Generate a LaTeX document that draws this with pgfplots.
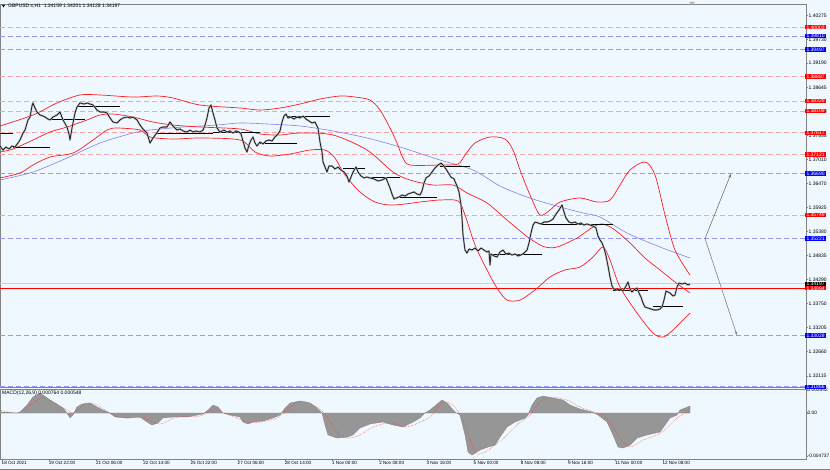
\documentclass[border=0pt]{standalone}
\usepackage{fontspec}
\setmainfont{Liberation Sans}
\usepackage{pgfplots}
\pgfplotsset{compat=1.18}
\usetikzlibrary{arrows.meta}

\definecolor{panelbg}{RGB}{240,248,255}
\definecolor{reddash}{RGB}{245,165,165}
\definecolor{bluedash}{RGB}{150,150,245}
\definecolor{bbred}{RGB}{250,30,30}
\definecolor{mablue}{RGB}{130,130,235}
\definecolor{framegray}{RGB}{130,130,130}
\definecolor{histgray}{RGB}{150,150,150}
\definecolor{candlegray}{RGB}{170,170,170}

\pgfplotsset{
  reddl/.style={reddash, dash pattern=on 5pt off 3pt, line width=0.6pt, forget plot},
  bluedl/.style={bluedash, dash pattern=on 5pt off 3pt, line width=0.6pt, forget plot},
  pivot/.style={black, line width=0.6pt, forget plot},
  pricepanel/.style={
    at={(0pt,-4pt)}, anchor=north west,
    width=806pt, height=383pt, scale only axis,
    xmin=0, xmax=806, ymin=1.31860, ymax=1.40531,
  },
}
\tikzset{
  lbl/.style={anchor=west, inner xsep=1.3pt, inner ysep=0.4pt, text=white, font=\fontsize{5pt}{5pt}\selectfont},
}

\begin{document}
\begin{tikzpicture}[font=\fontsize{5pt}{6pt}\selectfont]
\fill[panelbg] (0,0) rectangle (830pt,-470pt);

% price panel
\begin{axis}[
  pricepanel,
  axis line style={framegray, line width=0.6pt},
  xtick=\empty,
  ytick={1.40275,1.39730,1.39190,1.38645,1.38100,1.37555,1.37010,1.36470,1.35925,1.35380,1.34835,1.34290,1.33750,1.33205,1.32660,1.32115},
  yticklabels={1.40275,1.39730,1.39190,1.38645,1.38100,1.37555,1.37010,1.36470,1.35925,1.35380,1.34835,1.34290,1.33750,1.33205,1.32660,1.32115},
  scaled y ticks=false,
  yticklabel pos=right, ytick pos=right, ytick align=outside,
  major tick length=2pt,
  tick style={framegray, line width=0.4pt},
  yticklabel style={anchor=west, inner sep=0.5pt},
  /pgf/number format/assume math mode=true,
  clip=false,
]
% horizontal levels
\addplot[reddl] coordinates {(0,1.40003) (806,1.40003)};
\addplot[bluedl] coordinates {(0,1.39810) (806,1.39810)};
\addplot[bluedl] coordinates {(0,1.39497) (806,1.39497)};
\addplot[reddl] coordinates {(0,1.38887) (806,1.38887)};
\addplot[reddl] coordinates {(0,1.38329) (806,1.38329)};
\addplot[reddl] coordinates {(0,1.38109) (806,1.38109)};
\addplot[reddl] coordinates {(0,1.37617) (806,1.37617)};
\addplot[reddl] coordinates {(0,1.37121) (806,1.37121)};
\addplot[bluedl] coordinates {(0,1.36690) (806,1.36690)};
\addplot[reddl] coordinates {(0,1.35749) (806,1.35749)};
\addplot[bluedl] coordinates {(0,1.35221) (806,1.35221)};
\addplot[bluedl] coordinates {(0,1.33028) (806,1.33028)};
\addplot[bluedl] coordinates {(0,1.31866) (806,1.31866)};
\addplot[gray!35, line width=0.6pt, forget plot] coordinates {(0,1.34197) (806,1.34197)};
\addplot[red, line width=0.8pt, forget plot] coordinates {(0,1.34094) (806,1.34094)};

% moving average
\addplot[mablue, line width=0.6pt, smooth] coordinates {
(0,1.36546) (33,1.36727) (67,1.37044) (100,1.37384) (133,1.37610) (150,1.37678)
(183,1.37746) (217,1.37791) (240,1.37837) (267,1.37814) (300,1.37769) (333,1.37656)
(367,1.37497) (400,1.37293) (440,1.36999) (473,1.36773) (500,1.36410) (527,1.36161)
(553,1.35980) (583,1.35799) (600,1.35709) (627,1.35346) (660,1.35029) (690,1.34780)};

% Bollinger bands
\addplot[bbred, line width=0.7pt, smooth] coordinates {
(0,1.37769) (33,1.38018) (57,1.38290) (80,1.38471) (100,1.38471) (133,1.38425)
(157,1.38448) (173,1.38403) (200,1.38244) (240,1.38176) (260,1.38131) (280,1.38176)
(300,1.38267) (320,1.38380) (340,1.38448) (355,1.38425) (370,1.38357) (380,1.38131)
(390,1.37723) (397,1.37384) (403,1.37044)
(410,1.36886) (440,1.36886) (458,1.36908) (465,1.37112) (475,1.37384) (490,1.37520)
(505,1.37474) (513,1.37225) (520,1.36773) (530,1.36207) (540,1.35754) (550,1.35867)
(560,1.36048) (580,1.36139) (597,1.36048) (610,1.36093) (620,1.36433) (630,1.36773)
(645,1.36954) (655,1.36659) (665,1.35754) (675,1.34961) (690,1.34395)};
\addplot[bbred, line width=0.7pt, smooth] coordinates {
(0,1.37180) (13,1.37248) (33,1.37452) (50,1.37633) (67,1.37746) (87,1.37905)
(100,1.38018) (113,1.38040) (133,1.37972) (153,1.37859) (173,1.37791) (200,1.37746)
(240,1.37701) (260,1.37588) (280,1.37565) (300,1.37610) (333,1.37565)
(367,1.37225) (393,1.36727) (410,1.36546)
(433,1.36433) (453,1.36433) (467,1.36252) (487,1.36026) (507,1.35641) (525,1.35301)
(535,1.35143) (545,1.35029) (557,1.35029) (577,1.35233) (593,1.35482) (603,1.35550)
(615,1.35414) (630,1.35120) (645,1.34780) (660,1.34509) (675,1.34237) (690,1.33988)};
\addplot[bbred, line width=0.7pt, smooth] coordinates {
(0,1.36592) (20,1.36705) (33,1.36886) (50,1.37067) (73,1.37158) (93,1.37452)
(107,1.37678) (117,1.37723) (140,1.37678) (150,1.37520) (173,1.37474) (200,1.37497)
(240,1.37452) (255,1.37180) (270,1.37090) (290,1.37135) (310,1.37225) (325,1.37225)
(335,1.37044) (345,1.36659) (360,1.36275) (375,1.36048) (390,1.35980) (405,1.36003)
(420,1.36048) (440,1.36093) (458,1.36071) (465,1.35754) (475,1.35075) (487,1.34509)
(497,1.34101) (507,1.33829) (520,1.33829) (535,1.34056) (550,1.34350) (565,1.34509)
(580,1.34576) (593,1.34803) (603,1.35029) (610,1.34735) (620,1.34124) (637,1.33535)
(653,1.33082) (663,1.32992) (673,1.33150) (690,1.33535)};

% daily reference segments
\addplot[pivot] coordinates {(0,1.37610) (13,1.37610)};
\addplot[pivot] coordinates {(13,1.37293) (50,1.37293)};
\addplot[pivot] coordinates {(50,1.37927) (85,1.37927)};
\addplot[pivot] coordinates {(77,1.38222) (120,1.38222)};
\addplot[pivot] coordinates {(157,1.37610) (213,1.37610)};
\addplot[pivot] coordinates {(213,1.37633) (260,1.37633)};
\addplot[pivot] coordinates {(260,1.37384) (297,1.37384)};
\addplot[pivot] coordinates {(287,1.37995) (330,1.37995)};
\addplot[pivot] coordinates {(343,1.36818) (365,1.36818)};
\addplot[pivot] coordinates {(370,1.36614) (400,1.36614)};
\addplot[pivot] coordinates {(400,1.36161) (437,1.36161)};
\addplot[pivot] coordinates {(440,1.36863) (470,1.36863)};
\addplot[pivot] coordinates {(490,1.34871) (542,1.34871)};
\addplot[pivot] coordinates {(540,1.35550) (613,1.35550)};
\addplot[pivot] coordinates {(613,1.34056) (648,1.34056)};
\addplot[pivot] coordinates {(653,1.33694) (683,1.33694)};

% price (H1 closes), grey under-stroke for the bar ranges
\addplot[black, line width=0.55pt, line join=round,
  preaction={draw, candlegray, line width=1.8pt, line join=round}] coordinates {
(0,1.37316) (3,1.37225) (6,1.37293) (9,1.37248) (12,1.37316) (15,1.37293) (18,1.37384)
(20,1.37452) (23,1.37610) (25,1.37678) (28,1.37905) (30,1.37972) (32,1.38222) (33,1.38290)
(35,1.38176) (37,1.38086) (40,1.38018) (43,1.37995) (45,1.37972) (48,1.37927) (50,1.37905)
(53,1.37972) (57,1.38018) (60,1.38086) (63,1.37905) (67,1.37746) (69,1.37588) (70,1.37452)
(72,1.37723) (73,1.37837) (75,1.38063) (77,1.38199) (80,1.38290) (84,1.38267) (87,1.38290)
(90,1.38267) (93,1.38244) (97,1.38131) (100,1.38086) (104,1.38086) (107,1.38063) (110,1.37950)
(113,1.37859) (117,1.37837) (120,1.37905) (123,1.37950) (127,1.37972) (130,1.37950) (133,1.37972)
(137,1.37905) (140,1.37791) (143,1.37701) (147,1.37610) (150,1.37384) (153,1.37497) (156,1.37588)
(160,1.37723) (163,1.37746) (167,1.37746) (170,1.37859) (173,1.37769) (177,1.37678) (180,1.37701)
(183,1.37656) (187,1.37633) (190,1.37678) (193,1.37633) (196,1.37656) (200,1.37633) (203,1.37678)
(205,1.37791) (207,1.37950) (209,1.38176) (211,1.38244) (213,1.38063) (215,1.37905) (217,1.37723)
(220,1.37633) (224,1.37678) (227,1.37633) (230,1.37656) (233,1.37610) (236,1.37656) (239,1.37633)
(241,1.37588) (243,1.37429) (245,1.37271) (247,1.37180)
(249,1.37339) (251,1.37452) (253,1.37520) (255,1.37384) (257,1.37316) (260,1.37407) (263,1.37361)
(266,1.37429) (269,1.37452) (272,1.37429) (275,1.37520) (278,1.37588) (280,1.37656) (282,1.37859)
(284,1.37995) (286,1.38040) (288,1.37950) (291,1.37972) (294,1.37927) (297,1.37972) (300,1.37950)
(303,1.37995) (306,1.37927) (309,1.37882) (312,1.37837) (315,1.37859) (318,1.37723) (320,1.37407)
(322,1.37180) (323,1.36954) (325,1.36841) (327,1.36727) (329,1.36863) (332,1.36863) (335,1.36795)
(338,1.36841) (341,1.36773) (344,1.36727) (347,1.36637) (349,1.36501) (351,1.36614) (353,1.36727)
(356,1.36841) (358,1.36727) (361,1.36637) (364,1.36592) (367,1.36614) (370,1.36592) (374,1.36569)
(378,1.36524) (382,1.36546) (386,1.36592) (388,1.36478) (390,1.36365) (392,1.36229) (394,1.36116)
(396,1.36139) (399,1.36161) (402,1.36207) (405,1.36184) (408,1.36229) (411,1.36252) (414,1.36275)
(417,1.36229) (420,1.36207) (422,1.36297) (424,1.36478) (426,1.36592) (429,1.36637) (432,1.36727)
(435,1.36818) (438,1.36886) (441,1.36931) (443,1.36886) (446,1.36795) (449,1.36682) (451,1.36614)
(454,1.36569) (457,1.36410) (459,1.36275) (461,1.35980) (462,1.35686) (463,1.35301) (465,1.34961)
(467,1.34893) (469,1.34984) (472,1.34961) (475,1.35007) (478,1.34939) (481,1.35007) (484,1.34961)
(487,1.34916) (489,1.34939) (490,1.34622) (491,1.34871) (494,1.34826) (497,1.34803) (500,1.34916)
(503,1.34961) (506,1.34871) (509,1.34893) (512,1.34848) (515,1.34871) (518,1.34826) (521,1.34848)
(524,1.34893) (527,1.34961) (529,1.35120) (531,1.35346) (533,1.35527) (535,1.35595) (538,1.35573)
(541,1.35550) (544,1.35595) (547,1.35595) (550,1.35618) (553,1.35663) (556,1.35776) (559,1.35867)
(562,1.35980) (564,1.35822) (566,1.35686) (569,1.35595) (572,1.35573) (575,1.35595) (578,1.35550)
(581,1.35573) (584,1.35527) (587,1.35550) (590,1.35527) (593,1.35505) (596,1.35459) (598,1.35278)
(600,1.35188) (602,1.35120) (604,1.35007) (606,1.34826) (608,1.34599) (610,1.34350) (612,1.34146)
(614,1.34078) (617,1.34056) (620,1.34078) (623,1.34033) (626,1.34146) (628,1.34237) (630,1.34078)
(632,1.34010) (635,1.34078) (637,1.34101) (639,1.33988) (641,1.33897) (643,1.33761) (645,1.33671)
(648,1.33648) (651,1.33626) (654,1.33603) (657,1.33603) (660,1.33626) (662,1.33671) (664,1.33829)
(666,1.34033) (668,1.34010) (670,1.33988) (673,1.33920) (675,1.33943) (677,1.34124) (679,1.34214)
(682,1.34192) (685,1.34214) (688,1.34169) (690,1.34192)};

% projection arrows
\addplot[gray!90!black, line width=0.6pt, -{Stealth[length=4pt,width=2.5pt]}] coordinates {(705,1.35221) (731,1.36690)};
\addplot[gray, line width=0.6pt, -{Stealth[length=4pt,width=2.5pt]}] coordinates {(705,1.35221) (737,1.33028)};
\end{axis}

% MACD panel
\begin{axis}[
  at={(0pt,-389pt)}, anchor=north west,
  width=806pt, height=70pt, scale only axis,
  xmin=0, xmax=806, ymin=-0.005069, ymax=0.002645,
  axis line style={framegray, line width=0.6pt},
  ytick={-0.004737,0,0.002542},
  yticklabels={-0.004737,0.00,0.002542},
  scaled y ticks=false,
  yticklabel pos=right, ytick pos=right, ytick align=outside,
  xtick={2,49.2,96.4,143.6,190.8,238,285.2,332.4,379.6,426.8,474,521.2,568.4,615.6,662.8},
  xticklabels={18 Oct 2021,19 Oct 22:00,21 Oct 06:00,22 Oct 14:00,25 Oct 22:00,27 Oct 06:00,28 Oct 14:00,1 Nov 00:00,2 Nov 08:00,3 Nov 16:00,5 Nov 00:00,8 Nov 08:00,9 Nov 16:00,11 Nov 00:00,12 Nov 08:00},
  xtick pos=bottom, xtick align=outside,
  major tick length=2pt,
  tick style={framegray, line width=0.4pt},
  yticklabel style={anchor=west, inner sep=0pt, xshift=-0.5pt, font=\fontsize{4.8pt}{5pt}\selectfont},
  xticklabel style={anchor=north west, inner sep=0.5pt, xshift=-1pt, font=\fontsize{4.6pt}{5pt}\selectfont},
  /pgf/number format/assume math mode=true,
  clip=false,
]
\addplot[fill=histgray, draw=histgray!85!black, line width=0.3pt] coordinates {
(0,0.00011) (17,0) (20,0.00011) (27,0.00088) (33,0.00176) (40,0.00220) (43,0.00198)
(50,0.00143) (58,0.00088) (63,0.00055) (67,0) (70,-0.00055) (73,-0.00022) (77,0.00066)
(82,0.00099) (90,0.00110) (97,0.00066) (103,0.00033) (110,0) (115,-0.00044) (127,-0.00055)
(140,-0.00044) (147,-0.00099) (152,-0.00132) (158,-0.00110) (163,-0.00055) (173,-0.00044)
(187,-0.00044) (203,-0.00011) (208,0.00033) (213,0.00088) (218,0.00066) (223,0)
(230,-0.00022) (240,-0.00044) (243,-0.00099) (248,-0.00121) (253,-0.00099) (263,-0.00088)
(273,-0.00055) (280,-0.00022) (285,0.00055) (290,0.00110) (300,0.00132) (310,0.00110)
(317,0.00055) (322,0) (325,-0.00132) (328,-0.00242) (337,-0.00276) (347,-0.00265)
(353,-0.00242) (360,-0.00165) (370,-0.00121) (383,-0.00099) (393,-0.00132) (403,-0.00154)
(413,-0.00099) (420,-0.00055) (425,0) (430,0.00033) (442,0.00143) (447,0.00110)
(455,0.00011) (460,-0.00022) (465,-0.00242) (468,-0.00430) (472,-0.00463) (480,-0.00408)
(488,-0.00375) (495,-0.00353) (500,-0.00265) (507,-0.00154) (515,-0.00099) (525,-0.00055)
(528,-0.00022) (532,0.00088) (537,0.00165) (543,0.00187) (553,0.00165) (563,0.00143)
(570,0.00088) (580,0.00044) (592,0.00011) (598,-0.00022) (607,-0.00099) (613,-0.00242)
(618,-0.00375) (623,-0.00386) (630,-0.00353) (637,-0.00276) (647,-0.00242) (660,-0.00209)
(670,-0.00055) (677,-0.00022) (680,0.00033) (690,0.00076)} \closedcycle;
\addplot[red!75, densely dotted, line width=0.5pt, smooth] coordinates {
(0,0.00033) (17,0) (30,0.00088) (43,0.00176) (50,0.00143) (67,0.00033) (73,0)
(87,0.00110) (97,0.00088) (113,-0.00022) (127,-0.00055) (143,-0.00055) (160,-0.00121)
(177,-0.00044) (200,-0.00033) (213,0.00033) (227,-0.00011) (247,-0.00099) (260,-0.00099)
(277,-0.00055) (293,0.00088) (303,0.00132) (317,0.00066) (327,-0.00044) (337,-0.00209)
(347,-0.00276) (360,-0.00242) (373,-0.00154) (390,-0.00110) (407,-0.00154) (420,-0.00099)
(430,-0.00044) (443,0.00121) (455,0.00066) (465,-0.00132) (475,-0.00430) (483,-0.00441)
(495,-0.00353) (507,-0.00242) (518,-0.00121) (530,-0.00022) (540,0.00121) (550,0.00176)
(567,0.00143) (580,0.00066) (597,0) (607,-0.00055) (620,-0.00276) (630,-0.00375)
(643,-0.00298) (657,-0.00242) (667,-0.00165) (677,-0.00055) (687,0.00011) (690,0.00055)};
\end{axis}

% price labels on the scale, over the tick labels
\begin{axis}[pricepanel, hide axis, clip=false]
\node[lbl, fill=red]   at (axis cs:805,1.40003) {1.40003};
\node[lbl, fill=blue]  at (axis cs:805,1.39810) {1.39810};
\node[lbl, fill=blue]  at (axis cs:805,1.39497) {1.39497};
\node[lbl, fill=red]   at (axis cs:805,1.38887) {1.38887};
\node[lbl, fill=red]   at (axis cs:805,1.38329) {1.38329};
\node[lbl, fill=red]   at (axis cs:805,1.38109) {1.38109};
\node[lbl, fill=red]   at (axis cs:805,1.37617) {1.37617};
\node[lbl, fill=red]   at (axis cs:805,1.37121) {1.37121};
\node[lbl, fill=blue]  at (axis cs:805,1.36690) {1.36690};
\node[lbl, fill=red]   at (axis cs:805,1.35749) {1.35749};
\node[lbl, fill=blue]  at (axis cs:805,1.35221) {1.35221};
\node[lbl, fill=black] at (axis cs:805,1.34197) {1.34197};
\node[lbl, fill=red]   at (axis cs:805,1.34094) {1.34094};
\node[lbl, fill=blue]  at (axis cs:805,1.33028) {1.33028};
\node[lbl, fill=blue]  at (axis cs:805,1.31866) {1.31866};
\end{axis}

% window texts
\fill[black] (2pt,-5pt) -- (5pt,-5pt) -- (3.5pt,-7.5pt) -- cycle;
\node[anchor=west, inner sep=0pt] at (8pt,-6.3pt) {GBPUSD.s,H1\ \ 1.34159 1.34201 1.34128 1.34197};
\node[anchor=west, inner sep=0pt] at (2pt,-393.5pt) {MACD(12,26,9) 0.000764 0.000548};
\fill[gray!60] (689pt,-2pt) -- (695pt,-2pt) -- (692pt,-5pt) -- cycle;
\draw[framegray, line width=0.6pt] (0,-469.5pt) -- (830pt,-469.5pt);
\pgfresetboundingbox
\useasboundingbox (0,0) rectangle (830pt,-470pt);
\end{tikzpicture}
\end{document}
